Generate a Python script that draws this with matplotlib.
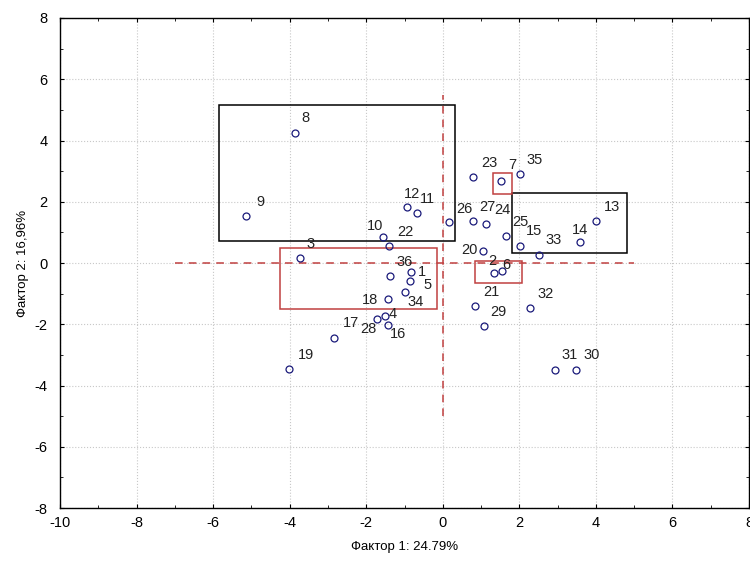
import matplotlib.pyplot as plt
from matplotlib.patches import Rectangle
from matplotlib.ticker import MultipleLocator

plt.rcParams['font.family'] = ['Liberation Sans', 'DejaVu Sans']
plt.rcParams['axes.unicode_minus'] = False

# case numbers and factor scores
ids = [8, 9, 12, 11, 10, 22, 3, 36, 1, 5, 34, 18, 4, 28, 16, 17, 19,
       23, 7, 35, 26, 27, 24, 25, 15, 33, 14, 13, 20, 2, 6, 21, 29, 32, 31, 30]
f1 = [-3.87, -5.13, -0.93, -0.67, -1.55, -1.40, -3.72, -1.38, -0.83, -0.86, -1.00, -1.44,
      -1.51, -1.73, -1.44, -2.85, -4.01,
      0.78, 1.51, 2.01, 0.16, 0.78, 1.12, 1.66, 2.03, 2.51, 3.58, 4.01, 1.04, 1.34, 1.55,
      0.84, 1.07, 2.29, 2.93, 3.47]
f2 = [4.24, 1.55, 1.83, 1.62, 0.86, 0.55, 0.17, -0.42, -0.30, -0.59, -0.95, -1.19,
      -1.72, -1.84, -2.03, -2.46, -3.47,
      2.80, 2.68, 2.92, 1.35, 1.38, 1.27, 0.89, 0.57, 0.25, 0.68, 1.36, 0.40, -0.31, -0.26,
      -1.39, -2.07, -1.47, -3.49, -3.49]

# label offsets in pixels (dx, dy) -- dy positive = up
offs = {8: (11, 15), 9: (14, 14), 12: (5, 13), 11: (10, 14), 10: (-8, 11), 22: (16, 14),
        3: (10, 14), 36: (15, 14), 1: (11, 0), 5: (18, -4), 34: (11, -10), 18: (-18, -1),
        4: (8, 2), 28: (-8, -10), 16: (10, -9), 17: (17, 15), 19: (17, 14),
        23: (17, 14), 7: (12, 16), 35: (15, 14), 26: (15, 13), 27: (15, 14), 24: (17, 14),
        25: (14, 14), 15: (14, 15), 33: (15, 15), 14: (0, 12), 13: (16, 14), 20: (-13, 1),
        2: (-2, 12), 6: (4, 6), 21: (16, 14), 29: (15, 14), 32: (15, 14), 31: (15, 15),
        30: (16, 15)}

# boxes: (x0, y0, x1, y1, colour)
boxes = [(-5.84, 0.73, 0.31, 5.16, 'black'),
         (1.82, 0.34, 4.81, 2.30, 'black'),
         (-4.26, -1.50, -0.15, 0.48, '#c04040'),
         (1.30, 2.25, 1.80, 2.95, '#c04040'),
         (0.85, -0.66, 2.07, 0.08, '#c04040')]

fig = plt.figure(figsize=(7.5, 5.62), dpi=100)
ax = fig.add_axes([0.08, 0.096, 0.9187, 0.872])

ax.plot(f1, f2, 'o', ms=5, mfc='none', mec='#1a1a7a', mew=0.9, zorder=3)
for i, x, y in zip(ids, f1, f2):
    dx, dy = offs[i]
    ax.annotate(str(i), (x, y), xytext=(dx, dy), textcoords='offset pixels',
                ha='center', va='center', fontsize=10.5, color='#222222')

for x0, y0, x1, y1, c in boxes:
    ax.add_patch(Rectangle((x0, y0), x1 - x0, y1 - y0, fill=False, ec=c, lw=1.1, zorder=2))

ax.plot([-7, 5], [0, 0], ls=(0, (5, 4)), color='#c04040', lw=1.1)
ax.plot([0, 0], [-5, 5.5], ls=(0, (5, 4)), color='#c04040', lw=1.1)

ax.set_xlim(-10, 8)
ax.set_ylim(-8, 8)
ax.xaxis.set_major_locator(MultipleLocator(2))
ax.yaxis.set_major_locator(MultipleLocator(2))
ax.xaxis.set_minor_locator(MultipleLocator(1))
ax.yaxis.set_minor_locator(MultipleLocator(1))
ax.tick_params(which='both', direction='in', top=True, right=True, labelsize=10.5)
ax.tick_params(which='major', length=3)
ax.tick_params(which='minor', length=2)
ax.tick_params(axis='y', pad=9)
ax.tick_params(axis='x', pad=6)
ax.grid(True, which='major', ls=':', color='#c8c8c8', lw=0.8)
ax.set_axisbelow(True)
for s in ax.spines.values():
    s.set_linewidth(1.0)

ax.set_xlabel('Фактор 1: 24.79%', fontsize=9.5, labelpad=8)
ax.set_ylabel('Фактор 2: 16,96%', fontsize=9.5, labelpad=4)

fig.savefig('out.png', dpi=100)
